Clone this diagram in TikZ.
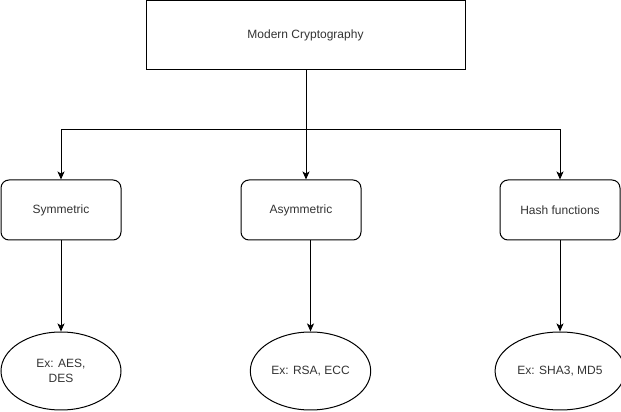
\documentclass[tikz,border=0pt]{standalone}
\usepackage{fontspec}
\setmainfont{Liberation Sans}
\usetikzlibrary{arrows.meta,shapes.geometric}
\begin{document}
\begin{tikzpicture}[x=1pt,y=1pt,line width=1pt,
    every node/.style={font=\fontsize{12}{15}\selectfont,text=black!80},
    topbox/.style={draw,minimum width=319pt,minimum height=69pt},
    kindbox/.style={draw,rounded corners=8pt,minimum width=120pt,minimum height=60pt},
    exnode/.style={draw,ellipse,minimum width=120pt,minimum height=78pt,align=center},
    >={Stealth[length=8pt,width=7pt,inset=2pt]}]
  \useasboundingbox (0,0) rectangle (621,412);
  \node[topbox] (crypto) at (305.5,376.5) {Modern Cryptography};
  \node[kindbox] (sym)  at (61,202)    {Symmetric};
  \node[kindbox] (asym) at (301,202)   {Asymmetric};
  \node[kindbox] (hash) at (560,202)   {Hash functions};
  \node[exnode] (symex)  at (61,41)    {Ex: AES,\\DES};
  \node[exnode] (asymex) at (310.5,41) {Ex: RSA, ECC};
  \node[exnode] (hashex) at (560,41)   {Ex: SHA3, MD5};
  \coordinate (fork) at (306,282);
  \draw[->] (crypto.south -| fork) -- (fork |- asym.north);
  \draw[->] (fork) -| (sym.north);
  \draw[->] (fork) -| (hash.north);
  \draw[->] (sym.south) -- (symex.north);
  \draw[->] (asymex.north |- asym.south) -- (asymex.north);
  \draw[->] (hash.south) -- (hashex.north);
\end{tikzpicture}
\end{document}
